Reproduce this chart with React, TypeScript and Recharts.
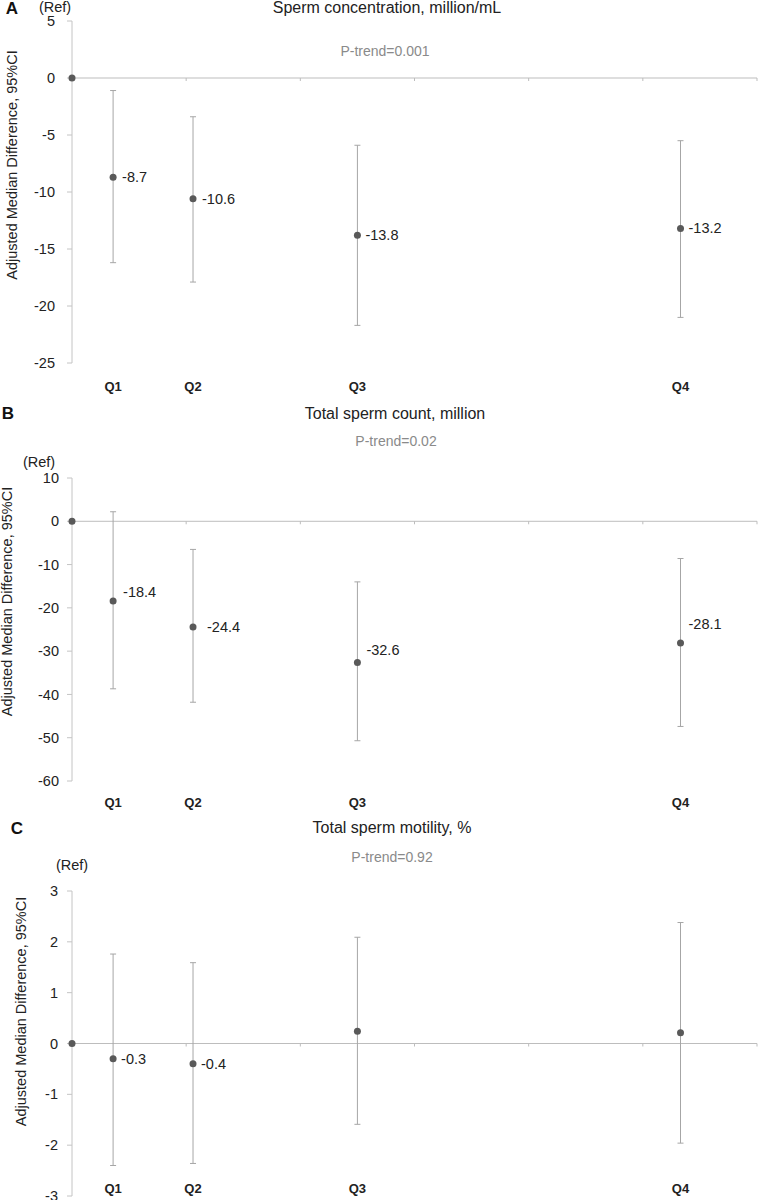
import React from "react";
import { ScatterChart, Scatter, XAxis, YAxis, ErrorBar, ReferenceLine, LabelList } from "recharts";

const FONT = "Arial, 'Liberation Sans', sans-serif";

const quartiles = ["Q1", "Q2", "Q3", "Q4"];
const quartileX = [0.36, 1.06, 2.5, 5.33];

// A: sperm concentration
const concMedian = [-8.7, -10.6, -13.8, -13.2];
const concLow = [-16.2, -17.9, -21.7, -21.0];
const concHigh = [-1.1, -3.4, -5.9, -5.5];
const concLabels = ["-8.7", "-10.6", "-13.8", "-13.2"];
const concTicks = [-25, -20, -15, -10, -5, 0, 5];

// B: total sperm count
const countMedian = [-18.4, -24.4, -32.6, -28.1];
const countLow = [-38.7, -41.8, -50.7, -47.4];
const countHigh = [2.2, -6.5, -14.0, -8.6];
const countLabels = ["-18.4", "-24.4", "-32.6", "-28.1"];
const countTicks = [-60, -50, -40, -30, -20, -10, 0, 10];

// C: total motility
const motMedian = [-0.3, -0.4, 0.24, 0.21];
const motLow = [-2.4, -2.36, -1.59, -1.96];
const motHigh = [1.76, 1.59, 2.09, 2.38];
const motLabels = ["-0.3", "-0.4", "", ""];
const motTicks = [-3, -2, -1, 0, 1, 2, 3];

const buildRows = (median: number[], low: number[], high: number[], labels: string[]) =>
  quartileX.map((x, i) => ({
    x,
    y: median[i],
    err: [median[i] - low[i], high[i] - median[i]],
    label: labels[i],
  }));

const refRow = [{ x: 0, y: 0 }];

const ZeroLine = (props: any) => {
  const { x1, x2, y1 } = props;
  const marks = [0, 1, 2, 3, 4, 5, 6].map((i) => x1 + ((x2 - x1) * i) / 6);
  return (
    <g>
      <line x1={x1} y1={y1} x2={x2} y2={y1} stroke="#bdbdbd" strokeWidth={1} />
      {marks.map((mx, i) => (
        <line key={i} x1={mx} y1={y1} x2={mx} y2={y1 + 3} stroke="#bdbdbd" strokeWidth={1} />
      ))}
    </g>
  );
};

const Dot = (p: any) => <circle cx={p.cx} cy={p.cy} r={3.5} fill="#595959" />;

type PanelProps = {
  top: number;
  height: number;
  marginTop: number;
  xAxisHeight: number;
  domain: [number, number];
  ticks: number[];
  tickMargin: number;
  rows: any[];
  labelOffsets: [number, number][];
  qDy: number;
  yLabelX: number;
  yLabelShift: number;
};

function Panel(p: PanelProps) {
  const renderYLabel = (props: any) => {
    const vb = props.viewBox;
    const cx = p.yLabelX;
    const cy = vb.y + vb.height / 2 - p.yLabelShift;
    return (
      <text
        x={cx}
        y={cy}
        transform={`rotate(-90, ${cx}, ${cy})`}
        textAnchor="middle"
        dominantBaseline="central"
        fontSize={14.5}
        fill="#222"
        fontFamily={FONT}
      >
        Adjusted Median Difference, 95%CI
      </text>
    );
  };

  const QTick = (t: any) => (
    <text
      x={t.x}
      y={t.y + p.qDy}
      textAnchor="middle"
      dominantBaseline="central"
      fontSize={13}
      fontWeight={700}
      fill="#222"
      fontFamily={FONT}
    >
      {quartiles[t.index]}
    </text>
  );

  const renderValue = (l: any) => {
    const i = l.index;
    const text = p.rows[i]?.label;
    if (!text) return null;
    const [dx, dy] = p.labelOffsets[i];
    return (
      <text
        x={l.x + l.width / 2 + dx}
        y={l.y + l.height / 2 + dy}
        dominantBaseline="central"
        fontSize={14.5}
        fill="#222"
        fontFamily={FONT}
      >
        {text}
      </text>
    );
  };

  return (
    <div style={{ position: "absolute", left: 0, top: p.top }}>
      <ScatterChart
        width={758}
        height={p.height}
        margin={{ top: p.marginTop, right: 1, bottom: 0, left: 0 }}
      >
        <XAxis
          type="number"
          dataKey="x"
          domain={[0, 6]}
          ticks={quartileX}
          axisLine={false}
          tickLine={false}
          tickSize={0}
          tickMargin={0}
          height={p.xAxisHeight}
          tick={QTick}
          interval={0}
        />
        <YAxis
          type="number"
          dataKey="y"
          domain={p.domain}
          ticks={p.ticks}
          interval={0}
          width={72}
          allowDataOverflow
          axisLine={{ stroke: "#c4c4c4" }}
          tickLine={{ stroke: "#c4c4c4" }}
          tickSize={5}
          tickMargin={p.tickMargin}
          tick={{ fill: "#222", fontSize: 14.5, fontFamily: FONT }}
          label={renderYLabel}
        />
        <ReferenceLine y={0} shape={ZeroLine} ifOverflow="visible" />
        <Scatter data={p.rows} shape={Dot} isAnimationActive={false}>
          <ErrorBar dataKey="err" direction="y" width={3} stroke="#a6a6a6" strokeWidth={1} />
          <LabelList dataKey="label" content={renderValue} />
        </Scatter>
        <Scatter data={refRow} shape={Dot} isAnimationActive={false} />
      </ScatterChart>
    </div>
  );
}

const Txt = ({ x, y, size, color, bold, children }: any) => (
  <div
    style={{
      position: "absolute",
      left: x,
      top: y,
      transform: "translate(-50%, -50%)",
      whiteSpace: "nowrap",
      lineHeight: 1,
      fontFamily: FONT,
      fontSize: size,
      color,
      fontWeight: bold ? 700 : 400,
    }}
  >
    {children}
  </div>
);

export default function App() {
  return (
    <div style={{ position: "absolute", left: 0, top: 0, width: 758, height: 1200, background: "#fff", overflow: "hidden" }}>
      <Panel
        top={0}
        height={400}
        marginTop={21}
        xAxisHeight={37}
        domain={[-25, 5]}
        ticks={concTicks}
        tickMargin={12}
        rows={buildRows(concMedian, concLow, concHigh, concLabels)}
        labelOffsets={[[9, 0], [9, 0], [8, 0], [8, 0]]}
        qDy={23}
        yLabelX={12}
        yLabelShift={27}
      />
      <Panel
        top={440}
        height={378}
        marginTop={38}
        xAxisHeight={37}
        domain={[-60, 10]}
        ticks={countTicks}
        tickMargin={8}
        rows={buildRows(countMedian, countLow, countHigh, countLabels)}
        labelOffsets={[[10, -9], [14, 0], [9, -12], [8, -19]]}
        qDy={21}
        yLabelX={7}
        yLabelShift={28}
      />
      <Panel
        top={860}
        height={340}
        marginTop={31}
        xAxisHeight={4}
        domain={[-3, 3]}
        ticks={motTicks}
        tickMargin={9}
        rows={buildRows(motMedian, motLow, motHigh, motLabels)}
        labelOffsets={[[8, 0], [8, 0], [8, 0], [8, 0]]}
        qDy={-8}
        yLabelX={21}
        yLabelShift={32}
      />

      <Txt x={12} y={8} size={17} color="#111" bold>A</Txt>
      <Txt x={387} y={8} size={16} color="#222">Sperm concentration, million/mL</Txt>
      <Txt x={385} y={51} size={14} color="#8a8a8a">P-trend=0.001</Txt>
      <Txt x={55} y={7} size={14.5} color="#222">(Ref)</Txt>

      <Txt x={8} y={413} size={17} color="#111" bold>B</Txt>
      <Txt x={395} y={414} size={16} color="#222">Total sperm count, million</Txt>
      <Txt x={396} y={441} size={14} color="#8a8a8a">P-trend=0.02</Txt>
      <Txt x={39} y={462} size={14.5} color="#222">(Ref)</Txt>

      <Txt x={17} y={828} size={17} color="#111" bold>C</Txt>
      <Txt x={392} y={828} size={16} color="#222">Total sperm motility, %</Txt>
      <Txt x={392} y={857} size={14} color="#8a8a8a">P-trend=0.92</Txt>
      <Txt x={72} y={865} size={14.5} color="#222">(Ref)</Txt>
    </div>
  );
}
